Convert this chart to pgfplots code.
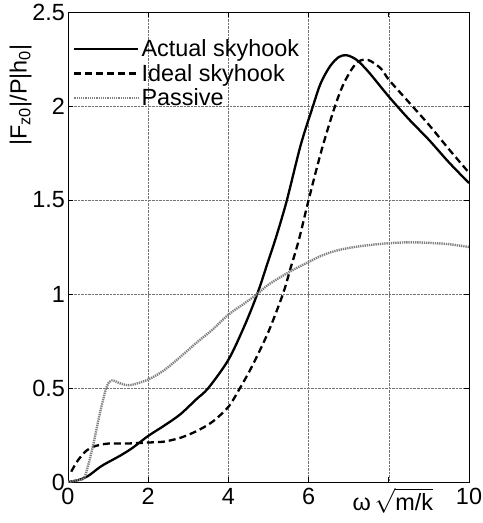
\documentclass[border=0pt]{standalone}
\usepackage{fontspec}
\setmainfont{Liberation Sans}
\usepackage{pgfplots}
\pgfplotsset{compat=1.18}
\begin{document}
\begin{tikzpicture}
\begin{axis}[
  name=ax,
  scale only axis,
  width=401bp, height=470bp,
  xmin=0, xmax=10, ymin=0, ymax=2.5,
  xtick={0,2,4,6,8,10},
  xticklabels={0,2,4,6,,10},
  ytick={0,0.5,1,1.5,2,2.5},
  yticklabels={0,0.5,1,1.5,2,2.5},
  tick align=inside,
  major tick length=5bp,
  grid=major,
  major grid style={densely dotted, black!55, line width=0.6bp},
  axis line style={line width=0.9bp},
  tick style={line width=0.8bp, black},
  ticklabel style={font=\fontsize{23.5}{28}\selectfont},
  xticklabel style={yshift=-6bp, inner sep=0bp},
  yticklabel style={xshift=-3bp, inner sep=0bp},
  /pgf/number format/assume math mode=true,
  xlabel={\fontsize{23.5}{28}\selectfont ω\,$\sqrt{\mbox{m/k}}$},
  xlabel style={at={(axis description cs:0.81,0)}, anchor=north, yshift=-2bp},
  ylabel={\fontsize{23.5}{28}\selectfont |F\textsubscript{z0}|/P|h\textsubscript{0}|},
  ylabel style={at={(axis description cs:-0.082,0.823)}, anchor=south},
  legend style={at={(axis description cs:0.005,0.95)}, anchor=north west, draw=none, fill=none,
    font=\fontsize{23.5}{28}\selectfont, row sep=2bp, nodes={inner sep=2bp}},
  legend cell align=left,
  legend image code/.code={\draw[#1] (0bp,0bp) -- (64bp,0bp);},
]
\addplot[black, line width=2.3bp, smooth] coordinates {
(0,0) (0.25,0.01) (0.5,0.032) (0.8,0.08) (1.0,0.105) (1.3,0.14) (1.6,0.18) (2.0,0.245) (2.4,0.30) (2.8,0.36) (3.2,0.44) (3.5,0.50) (4.0,0.65) (4.4,0.83) (4.72,1.0) (5.0,1.18) (5.2,1.31) (5.46,1.5) (5.8,1.79) (6.11,2.0) (6.3,2.12) (6.53,2.21) (6.75,2.26) (6.95,2.27) (7.2,2.245) (7.5,2.18) (8.0,2.05) (8.5,1.93) (9.0,1.82) (9.5,1.70) (10,1.59)
};
\addlegendentry{Actual skyhook}
\addplot[black, line width=2.3bp, dash pattern=on 7bp off 4bp, smooth] coordinates {
(0.08,0.055) (0.2,0.10) (0.3,0.13) (0.45,0.165) (0.6,0.185) (0.8,0.198) (1.05,0.205) (1.5,0.205) (2.0,0.21) (2.4,0.215) (2.8,0.235) (3.2,0.27) (3.6,0.32) (4.0,0.40) (4.29,0.50) (4.6,0.62) (5.0,0.80) (5.36,1.0) (5.54,1.13) (5.76,1.29) (6.0,1.5) (6.33,1.77) (6.66,2.0) (6.9,2.13) (7.2,2.23) (7.48,2.245) (7.8,2.20) (8.0,2.14) (8.5,2.02) (9.0,1.90) (9.5,1.77) (10,1.645)
};
\addlegendentry{Ideal skyhook}
\addplot[black!50, line width=2.4bp, dash pattern=on 1.3bp off 0.9bp, smooth] coordinates {
(0,0) (0.25,0.01) (0.42,0.03) (0.62,0.19) (0.8,0.37) (0.97,0.51) (1.1,0.54) (1.3,0.525) (1.55,0.515) (2.0,0.545) (2.4,0.595) (2.8,0.665) (3.2,0.74) (3.6,0.81) (4.0,0.89) (4.4,0.95) (4.72,1.0) (5.0,1.05) (5.54,1.12) (6.0,1.17) (6.28,1.20) (6.6,1.225) (7.0,1.245) (7.5,1.26) (8.0,1.27) (8.5,1.275) (9.0,1.272) (9.5,1.265) (10,1.25)
};
\addlegendentry{Passive}
\end{axis}
\path ([shift={(-68bp,-41bp)}]ax.south west) rectangle ([shift={(11bp,12bp)}]ax.north east);
\end{tikzpicture}
\end{document}
